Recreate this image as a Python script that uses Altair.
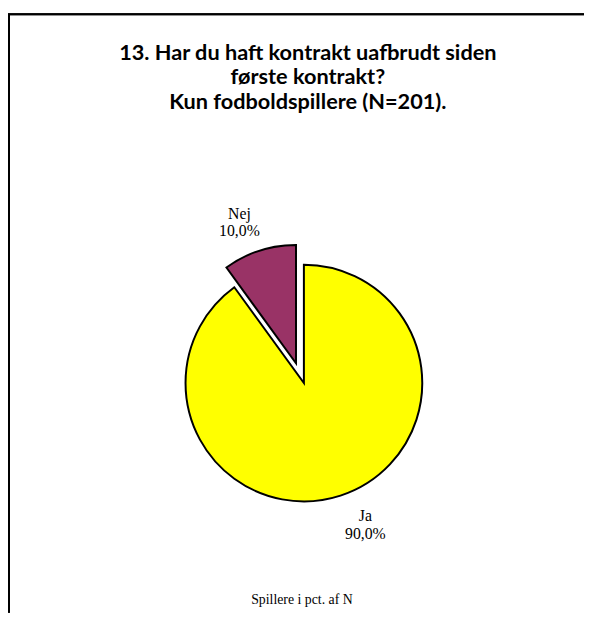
import altair as alt
import pandas as pd

categories = ["Ja", "Nej"]
values = [90.0, 10.0]
colors = ["#FFFF00", "#993366"]
title_lines = ["13. Har du haft kontrakt uafbrudt siden", "første kontrakt?", "Kun fodboldspillere (N=201)."]
footer = "Spillere i pct. af N"

labels = [f"{c}\n{v:.1f}".replace(".", ",") + "%" for c, v in zip(categories, values)]
df = pd.DataFrame({"category": categories, "value": values, "order": list(range(len(categories))), "label": labels})

W, H = 584, 609

base = alt.Chart(df).transform_window(
    cum="sum(value)", sort=[alt.SortField("order")], frame=[None, 0]
).transform_calculate(
    start="datum.cum - datum.value", mid="datum.cum - datum.value / 2"
)

theta_scale = alt.Scale(domain=[0, 100])
color = alt.Color("category:N", scale=alt.Scale(domain=categories, range=colors), legend=None)

def arc_layer(cat, cx, cy):
    return base.transform_filter(alt.datum.category == cat).mark_arc(
        outerRadius=120, stroke="black", strokeWidth=2
    ).encode(
        theta=alt.Theta("start:Q", scale=theta_scale),
        theta2="cum:Q",
        color=color,
        x=alt.value(cx), y=alt.value(cy),
    )

def label_layer(cat, cx, cy, dx, dy):
    return base.transform_filter(alt.datum.category == cat).mark_text(
        radius=150, dx=dx, dy=dy, font="Liberation Serif", fontSize=16,
        lineBreak="\n", lineHeight=18, align="center", baseline="middle", color="black"
    ).encode(
        theta=alt.Theta("mid:Q", scale=theta_scale),
        text="label:N",
        x=alt.value(cx), y=alt.value(cy),
    )

top_rule = alt.Chart(df).mark_rule(color="black", strokeWidth=2).encode(
    x=alt.value(0), x2=alt.value(W), y=alt.value(2)
)
left_rule = alt.Chart(df).mark_rule(color="black", strokeWidth=2).encode(
    x=alt.value(1), y=alt.value(2), y2=alt.value(H)
)
foot = alt.Chart(pd.DataFrame({"t": [footer]})).mark_text(
    font="Liberation Serif", fontSize=14, align="center", baseline="middle", color="black"
).encode(text="t:N", x=alt.value(W / 2 + 6), y=alt.value(596))

chart = alt.layer(
    top_rule, left_rule,
    arc_layer("Ja", 300, 376), arc_layer("Nej", 292, 356),
    label_layer("Ja", 300, 376, 16, -8), label_layer("Nej", 292, 356, -11, -9),
    foot,
).properties(
    width=W, height=H, padding=0, autosize=alt.AutoSizeParams(type="none"),
    title=alt.TitleParams(
        title_lines, anchor="middle", frame="group", offset=-103, dx=12,
        font="Lato", fontSize=22, fontWeight="bold", lineHeight=25, color="black"
    ),
).configure_view(stroke=None)

chart.save("out.html", embed_options={"renderer": "svg", "actions": False})
